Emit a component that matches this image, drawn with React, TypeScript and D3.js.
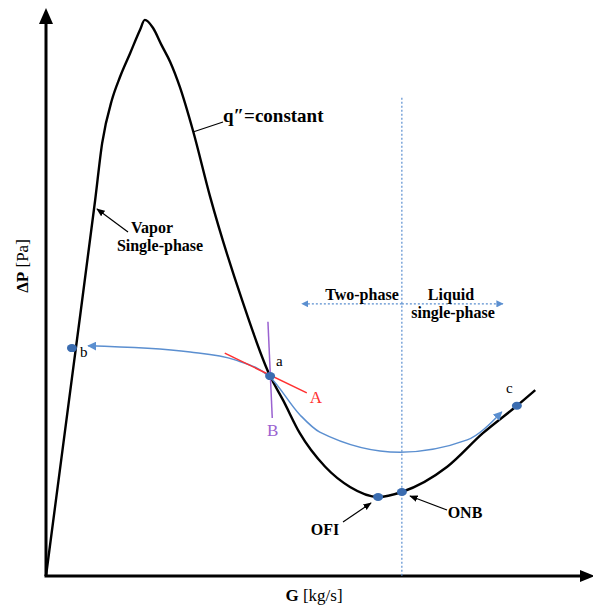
import React from "react";
import * as d3 from "d3";

// q''=constant demand curve (G, ΔP) in relative units
const curveG = [0, 5.0, 9.1, 10.4, 12.2, 13.7, 15.6, 17.4, 18.3, 19.8, 21.4, 23.0, 24.8, 27.2, 30.4, 36.3, 41.5, 43.9, 47.0, 51.7, 56.3, 61.5, 65.9, 74.3, 80.9, 87.2, 90.6];
const curveP = [0, 36.8, 67.1, 77.3, 85.0, 89.1, 93.4, 97.5, 99.3, 97.9, 94.8, 91.8, 87.3, 79.6, 67.7, 49.3, 35.7, 31.4, 25.5, 19.5, 15.9, 14.1, 15.0, 19.5, 25.5, 30.4, 33.2];

// blue excursion path b <- a -> c
const pathG = [7.8, 26.7, 35.0, 41.5, 47.0, 50.7, 65.6, 78.0, 84.4];
const pathP = [41.1, 40.0, 38.6, 35.5, 28.8, 25.7, 22.1, 24.3, 29.3];

// marked points
const pointNames = ["b", "a", "OFI", "ONB", "c"];
const pointG = [4.8, 41.5, 61.5, 65.9, 87.2];
const pointP = [40.7, 35.7, 14.1, 15.0, 30.4];

// tangents
const tangentA = { g: [33.1, 48.3], p: [39.8, 32.7] };
const tangentB = { g: [41.1, 41.9], p: [45.4, 28.2] };

// ONB boundary
const boundaryG = 65.9;
const boundaryTop = 85.4;
const regionArrowP = 48.6;
const regionArrowG = [47.4, 84.6];

const W = 593;
const H = 610;
const serif = "'Liberation Serif', 'Times New Roman', serif";

export default function App() {
  const x = d3.scaleLinear().domain([0, 100]).range([46, 586]);
  const y = d3.scaleLinear().domain([0, 100]).range([576, 16]);

  const curve = d3
    .line<number>()
    .x((_, i) => x(curveG[i]))
    .y((_, i) => y(curveP[i]))
    .curve(d3.curveMonotoneX)(curveG);

  const blue = d3
    .line<number>()
    .x((_, i) => x(pathG[i]))
    .y((_, i) => y(pathP[i]))
    .curve(d3.curveMonotoneX)(pathG);

  const blueC = "#5b8fd0";
  const dotC = "#3a6cb0";
  const x0 = x(0);
  const y0 = y(0);

  return (
    <svg width={W} height={H} style={{ position: "absolute", left: 0, top: 0, background: "#fff" }} fontFamily={serif}>
      <defs>
        <marker id="blueArrow" viewBox="0 0 10 10" refX="9" refY="5" markerWidth="6" markerHeight="6" orient="auto-start-reverse">
          <path d="M0,0 L10,5 L0,10 z" fill={blueC} />
        </marker>
        <marker id="blackArrow" viewBox="0 0 10 10" refX="9" refY="5" markerWidth="7" markerHeight="7" orient="auto">
          <path d="M0,1 L10,5 L0,9 z" fill="#000" />
        </marker>
      </defs>

      {/* axes */}
      <line x1={x0} y1={y0} x2={x0} y2={22} stroke="#000" strokeWidth={3} />
      <path d={`M${x0},8 L${x0 - 7},24 L${x0 + 7},24 z`} fill="#000" />
      <line x1={x0 - 1.5} y1={y0} x2={582} y2={y0} stroke="#000" strokeWidth={3} />
      <path d={`M595,${y0} L580,${y0 - 6} L580,${y0 + 6} z`} fill="#000" />

      {/* ONB boundary and region arrow */}
      <line x1={x(boundaryG)} y1={y(boundaryTop)} x2={x(boundaryG)} y2={y0} stroke={blueC} strokeWidth={1.2} strokeDasharray="2,2" />
      <line x1={x(boundaryG)} y1={y(regionArrowP)} x2={x(regionArrowG[0])} y2={y(regionArrowP)} stroke={blueC} strokeWidth={1.2} strokeDasharray="2,2" markerEnd="url(#blueArrow)" />
      <line x1={x(boundaryG)} y1={y(regionArrowP)} x2={x(regionArrowG[1])} y2={y(regionArrowP)} stroke={blueC} strokeWidth={1.2} strokeDasharray="2,2" markerEnd="url(#blueArrow)" />

      {/* main curve */}
      <path d={curve ?? ""} fill="none" stroke="#000" strokeWidth={2.4} strokeLinejoin="round" />

      {/* blue path */}
      <path d={blue ?? ""} fill="none" stroke={blueC} strokeWidth={1.5} markerStart="url(#blueArrow)" markerEnd="url(#blueArrow)" />

      {/* tangents */}
      <line x1={x(tangentA.g[0])} y1={y(tangentA.p[0])} x2={x(tangentA.g[1])} y2={y(tangentA.p[1])} stroke="#ff3030" strokeWidth={1.5} />
      <line x1={x(tangentB.g[0])} y1={y(tangentB.p[0])} x2={x(tangentB.g[1])} y2={y(tangentB.p[1])} stroke="#9a62d0" strokeWidth={1.5} />

      {/* points */}
      {pointNames.map((n, i) => (
        <ellipse key={n} cx={x(pointG[i])} cy={y(pointP[i])} rx={5} ry={4} fill={dotC} />
      ))}

      {/* point labels */}
      <text x={x(pointG[0]) + 8} y={y(pointP[0]) + 9} fontSize={15}>b</text>
      <text x={x(pointG[1]) + 6} y={y(pointP[1]) - 10} fontSize={15}>a</text>
      <text x={x(pointG[4]) - 11} y={y(pointP[4]) - 13} fontSize={15}>c</text>
      <text x={x(tangentA.g[1]) + 3} y={y(tangentA.p[1]) + 10} fontSize={17} fill="#ff3030">A</text>
      <text x={x(tangentB.g[0]) - 1} y={y(tangentB.p[1]) + 18} fontSize={17} fill="#9a62d0">B</text>

      {/* annotations */}
      <line x1={193} y1={132} x2={223} y2={122} stroke="#000" strokeWidth={1.2} />
      <text x={223} y={122} fontSize={19} fontWeight="bold">q″=constant</text>

      <line x1={128} y1={232} x2={97} y2={209} stroke="#000" strokeWidth={1.2} markerEnd="url(#blackArrow)" />
      <text x={152} y={233} fontSize={16} fontWeight="bold" textAnchor="middle">Vapor</text>
      <text x={160} y={251} fontSize={16} fontWeight="bold" textAnchor="middle">Single-phase</text>

      <text x={362} y={300} fontSize={16} fontWeight="bold" textAnchor="middle">Two-phase</text>
      <text x={451} y={300} fontSize={16} fontWeight="bold" textAnchor="middle">Liquid</text>
      <text x={453} y={318} fontSize={16} fontWeight="bold" textAnchor="middle">single-phase</text>

      <line x1={343} y1={522} x2={371} y2={503} stroke="#000" strokeWidth={1.2} markerEnd="url(#blackArrow)" />
      <text x={325} y={535} fontSize={16} fontWeight="bold" textAnchor="middle">OFI</text>
      <line x1={447} y1={510} x2={410} y2={496} stroke="#000" strokeWidth={1.2} markerEnd="url(#blackArrow)" />
      <text x={465} y={518} fontSize={16} fontWeight="bold" textAnchor="middle">ONB</text>

      {/* axis titles */}
      <text x={314} y={601} fontSize={17} textAnchor="middle">
        <tspan fontWeight="bold">G</tspan> [kg/s]
      </text>
      <text transform="translate(28,266) rotate(-90)" fontSize={17} textAnchor="middle">
        <tspan fontWeight="bold">ΔP</tspan> [Pa]
      </text>
    </svg>
  );
}
